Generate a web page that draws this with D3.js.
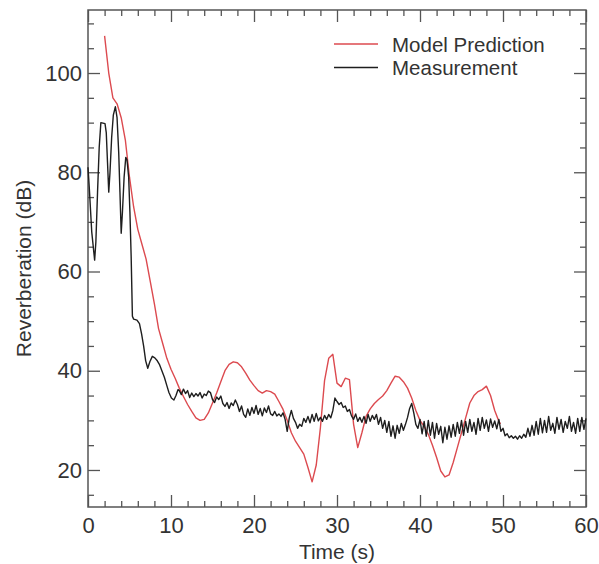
<!DOCTYPE html>
<html>
<head>
<meta charset="utf-8">
<script src="https://cdn.jsdelivr.net/npm/d3@7"></script>
<style>
  html, body { margin: 0; padding: 0; background: #ffffff; }
  svg { display: block; }
  text { font-family: "Liberation Sans", Arial, sans-serif; fill: #333; }
</style>
</head>
<body>
<svg id="chart" width="599" height="564"></svg>
<script>
// ---------- DATA ----------
const xTicksMajor = [0, 10, 20, 30, 40, 50, 60];
const yTicksMajor = [20, 40, 60, 80, 100];
const seriesNames = ["Model Prediction", "Measurement"];

// Model prediction: [time (s), level (dB)]
const modelTime = [2.0, 2.5, 3.0, 3.5, 4.0, 4.5, 5.0, 5.5, 6.0, 6.5, 7.0, 7.5, 8.0, 8.5, 9.0, 9.5, 10.0, 10.5, 11.0, 11.5,
  12.0, 12.5, 13.0, 13.5, 14.0, 14.5, 15.0, 15.5, 16.0, 16.5, 17.0, 17.5, 18.0, 18.5, 19.0, 19.5, 20.0, 20.5, 21.0, 21.5,
  22.0, 22.5, 23.0, 23.5, 24.0, 24.5, 25.0, 25.5, 26.0, 26.5, 27.0, 27.5, 28.0, 28.5, 29.0, 29.5, 30.0, 30.5, 31.0, 31.5,
  32.0, 32.5, 33.0, 33.5, 34.0, 34.5, 35.0, 35.5, 36.0, 36.5, 37.0, 37.5, 38.0, 38.5, 39.0, 39.5, 40.0, 40.5, 41.0, 41.5,
  42.0, 42.5, 43.0, 43.5, 44.0, 44.5, 45.0, 45.5, 46.0, 46.5, 47.0, 47.5, 48.0, 48.5, 49.0, 49.5, 49.7];
const modelValue = [107.5, 100.0, 95.0, 93.8, 91.0, 86.5, 79.0, 73.0, 68.5, 65.5, 62.5, 58.0, 53.5, 48.5, 45.5, 42.5, 40.3, 38.5, 36.5, 34.8,
  33.2, 31.8, 30.5, 30.0, 30.2, 31.5, 33.5, 35.5, 37.8, 40.0, 41.3, 41.8, 41.6, 40.8, 39.5, 38.1, 37.0, 36.0, 35.5, 36.0,
  35.8, 35.3, 33.8, 32.2, 30.0, 27.5, 25.8, 24.5, 23.2, 20.5, 17.6, 21.0, 28.5, 38.0, 42.5, 43.3, 37.5, 36.8, 38.5, 38.2,
  29.2, 24.5, 27.5, 30.8, 32.3, 33.4, 34.2, 34.9, 36.0, 37.5, 38.9, 38.7, 37.8, 36.5, 34.5, 32.0, 30.0, 28.8, 27.2, 25.0,
  22.5, 19.8, 18.6, 19.0, 21.5, 24.5, 27.5, 30.5, 33.5, 35.0, 35.8, 36.2, 36.9, 35.0, 32.0, 29.8, 29.3];

// Measurement, early part (irregular samples)
const measEarlyTime = [0.0, 0.15, 0.45, 0.8, 0.95, 1.15, 1.35, 1.55, 2.05, 2.2, 2.35, 2.5, 2.65, 2.85, 3.05, 3.3, 3.5, 3.7, 3.85, 4.0,
  4.15, 4.35, 4.55, 4.7, 4.9, 5.05, 5.2, 5.35, 5.5, 5.9, 6.2, 6.45, 6.7, 6.95, 7.2, 7.45, 7.75, 8.05, 8.35, 8.6,
  8.9, 9.2, 9.5, 9.75, 10.05, 10.35, 10.6, 10.85];
const measEarlyValue = [81.0, 77.0, 68.0, 62.3, 66.0, 76.0, 85.0, 90.0, 89.8, 88.0, 82.0, 76.0, 80.0, 87.0, 91.5, 93.2, 91.0, 84.0, 76.0, 67.7,
  72.0, 79.0, 83.0, 82.5, 79.0, 72.0, 63.0, 51.0, 50.4, 50.2, 49.5, 47.5, 45.0, 42.0, 40.5, 41.8, 42.9, 42.6, 42.0, 41.3,
  40.0, 38.7, 37.0, 35.6, 34.5, 34.1, 35.0, 36.2];

// Measurement, later part sampled every 0.25 s starting at 11 s
const measLateStart = 11.0;
const measLateStep = 0.25;
const measLateValue = [
  36.0, 35.2, 36.3, 35.4, 36.0, 34.6, 35.5, 34.8, 35.4, 34.9, 35.6, 34.5, 35.3, 35.0, 35.9, 35.6, 34.2, 33.6, 34.7, 34.2,
  34.9, 33.4, 32.8, 33.6, 32.4, 33.5, 33.0, 34.1, 33.2, 31.8, 32.9, 31.2, 30.6, 32.3, 31.0, 32.6, 31.4, 33.0, 31.2, 32.4,
  30.9, 32.5, 31.6, 32.9, 31.3, 31.0, 31.8, 30.9, 31.3, 30.8, 31.5, 30.2, 27.8, 30.5, 32.0, 30.4, 29.6, 28.4, 29.2, 28.8,
  30.4, 29.6, 30.8, 29.5, 31.2, 29.8, 31.4, 29.9, 30.6, 29.8, 31.0, 30.2, 31.2, 30.5, 32.0, 34.5, 33.8, 33.2, 33.6, 32.6,
  32.9, 31.8, 32.2, 30.9, 30.2, 31.3, 29.8, 30.6, 29.6, 30.8, 29.4, 31.2, 29.8, 31.0, 30.2, 31.2, 29.2, 30.6, 28.4, 30.0,
  27.6, 29.8, 26.8, 28.9, 26.4, 29.0, 27.4, 29.4, 28.0, 29.2, 30.6, 32.4, 33.4, 31.5, 29.2, 28.4, 30.2, 27.3, 29.8, 26.8,
  30.0, 27.0, 29.6, 26.4, 29.4, 27.2, 28.8, 25.5, 28.6, 26.2, 28.9, 26.6, 29.2, 26.8, 29.6, 27.4, 30.0, 27.0, 29.8, 27.6,
  30.2, 27.8, 29.6, 27.2, 30.4, 28.0, 30.6, 28.4, 30.1, 27.8, 30.3, 28.6, 29.9, 28.3, 30.2, 27.8, 28.4, 26.9, 27.3, 26.5,
  26.9, 26.4, 26.8, 26.2, 26.9, 26.4, 27.2, 26.6, 28.4, 26.8, 29.0, 27.0, 29.8, 27.2, 30.4, 27.5, 30.0, 27.6, 30.8, 28.0,
  29.4, 27.4, 30.6, 28.2, 30.2, 27.6, 29.8, 28.4, 30.8, 27.8, 29.6, 27.4, 30.4, 27.8, 30.6, 28.2, 30.4];

// ---------- LAYOUT ----------
const svg = d3.select("#chart");
const plot = { left: 88, right: 586, top: 10, bottom: 507 };
const x = d3.scaleLinear().domain([0, 60]).range([plot.left, plot.right]);
const y = d3.scaleLinear().domain([12.54, 112.7]).range([plot.bottom, plot.top]);

const axisColor = "#555";
const redColor = "#dc4a4f";
const blackColor = "#1e1e1e";

// minor ticks
const xMinor = d3.range(0, 61, 2).filter(v => v % 10 !== 0);
const yMinor = d3.range(15, 112, 5).filter(v => v % 20 !== 0);

function styleAxis(g) {
  g.selectAll("path.domain").remove();
  g.selectAll("line").attr("stroke", axisColor).attr("stroke-width", 1.3);
  g.selectAll("text").attr("fill", "#333").style("font-size", "22px")
    .style("font-family", '"Liberation Sans", Arial, sans-serif');
}

// bottom
svg.append("g").attr("transform", `translate(0,${plot.bottom})`)
  .call(d3.axisBottom(x).tickValues(xTicksMajor).tickSize(-12).tickPadding(10).tickFormat(d3.format("d")))
  .call(styleAxis);
svg.append("g").attr("transform", `translate(0,${plot.bottom})`)
  .call(d3.axisBottom(x).tickValues(xMinor).tickSize(-6).tickFormat(""))
  .call(styleAxis);
// top
svg.append("g").attr("transform", `translate(0,${plot.top})`)
  .call(d3.axisTop(x).tickValues(xTicksMajor).tickSize(-12).tickFormat(""))
  .call(styleAxis);
svg.append("g").attr("transform", `translate(0,${plot.top})`)
  .call(d3.axisTop(x).tickValues(xMinor).tickSize(-6).tickFormat(""))
  .call(styleAxis);
// left
svg.append("g").attr("transform", `translate(${plot.left},0)`)
  .call(d3.axisLeft(y).tickValues(yTicksMajor).tickSize(-12).tickPadding(6).tickFormat(d3.format("d")))
  .call(styleAxis);
svg.append("g").attr("transform", `translate(${plot.left},0)`)
  .call(d3.axisLeft(y).tickValues(yMinor).tickSize(-6).tickFormat(""))
  .call(styleAxis);
// right
svg.append("g").attr("transform", `translate(${plot.right},0)`)
  .call(d3.axisRight(y).tickValues(yTicksMajor).tickSize(-12).tickFormat(""))
  .call(styleAxis);
svg.append("g").attr("transform", `translate(${plot.right},0)`)
  .call(d3.axisRight(y).tickValues(yMinor).tickSize(-6).tickFormat(""))
  .call(styleAxis);

// frame
svg.append("rect")
  .attr("x", plot.left).attr("y", plot.top)
  .attr("width", plot.right - plot.left).attr("height", plot.bottom - plot.top)
  .attr("fill", "none").attr("stroke", axisColor).attr("stroke-width", 1.5);

// ---------- SERIES ----------
const line = d3.line().x(d => x(d[0])).y(d => y(d[1]));

const modelData = modelTime.map((t, i) => [t, modelValue[i]]);
const measData = measEarlyTime.map((t, i) => [t, measEarlyValue[i]])
  .concat(measLateValue.map((v, i) => [measLateStart + i * measLateStep, v]));

svg.append("path").datum(modelData)
  .attr("d", line).attr("fill", "none")
  .attr("stroke", redColor).attr("stroke-width", 1.4).attr("stroke-linejoin", "round");

svg.append("path").datum(measData)
  .attr("d", line).attr("fill", "none")
  .attr("stroke", blackColor).attr("stroke-width", 1.4).attr("stroke-linejoin", "round");

// ---------- LEGEND ----------
const legend = svg.append("g");
const legendColors = [redColor, blackColor];
seriesNames.forEach((name, i) => {
  const ly = 44 + i * 23.5;
  legend.append("line").attr("x1", 334).attr("x2", 378).attr("y1", ly).attr("y2", ly)
    .attr("stroke", legendColors[i]).attr("stroke-width", 1.4);
  legend.append("text").attr("x", 392).attr("y", ly + 7.5)
    .style("font-size", "20.5px").text(name);
});

// ---------- AXIS TITLES ----------
svg.append("text").attr("x", (plot.left + plot.right) / 2).attr("y", 559)
  .attr("text-anchor", "middle").style("font-size", "21px").text("Time (s)");
svg.append("text")
  .attr("transform", `translate(31,${(plot.top + plot.bottom) / 2 + 10}) rotate(-90)`)
  .attr("text-anchor", "middle").style("font-size", "21px").text("Reverberation (dB)");
</script>
</body>
</html>
